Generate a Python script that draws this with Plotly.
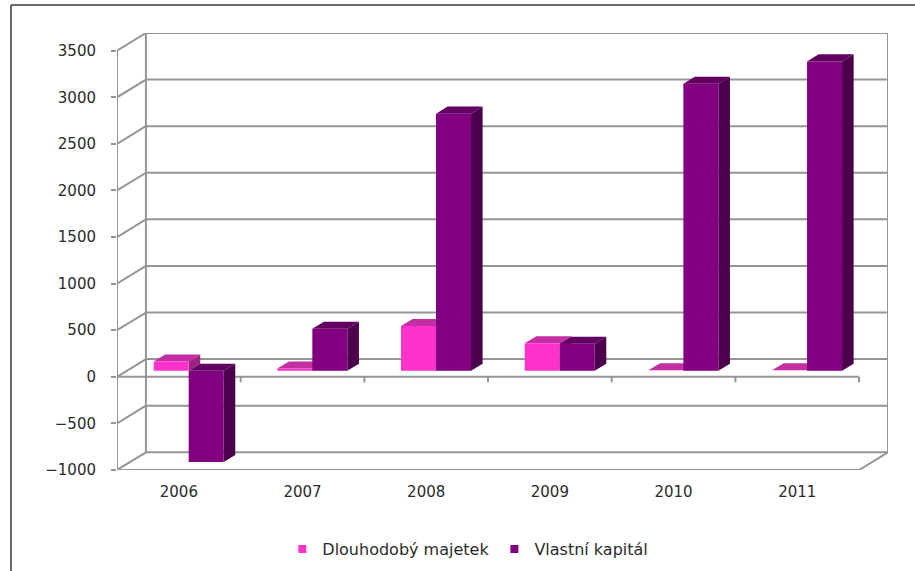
import plotly.graph_objects as go

# ---- data -------------------------------------------------------------
years = ['2006', '2007', '2008', '2009', '2010', '2011']
dlouhodoby_majetek = [100, 25, 480, 295, 5, 5]
vlastni_kapital = [-980, 450, 2760, 290, 3080, 3320]
y_ticks = [-1000, -500, 0, 500, 1000, 1500, 2000, 2500, 3000, 3500]

series_names = ['Dlouhodobý majetek', 'Vlastní kapitál']

# ---- oblique "3D" projection, depth expressed in data units ------------
DEPTH_X = 0.234          # horizontal shift of the back wall (category units)
DEPTH_Y = 190            # vertical shift of the back wall (value units)
Y_MIN, Y_MAX = y_ticks[0], y_ticks[-1]
X_MIN, X_MAX = -0.5, len(years) - 0.5

BAR_W = 0.283            # width of one column
BAR_Z0 = 0.34            # depth fraction of the column front faces
BAR_Z1 = 0.74            # depth fraction of the column back faces

GRID = '#959595'
TEXT = '#2b2b2b'
FONT = 'DejaVu Sans'

PALETTE = {
    'Dlouhodobý majetek': dict(front='#FF33CC', top='#C42EA3', side='#9E2483'),
    'Vlastní kapitál': dict(front='#800080', top='#610061', side='#4C004C'),
}


def proj(x, y, z):
    return x + z * DEPTH_X, y + z * DEPTH_Y


def poly(points):
    xs, ys = [], []
    for p in points:
        px, py = proj(*p)
        xs.append(px)
        ys.append(py)
    xs.append(xs[0])
    ys.append(ys[0])
    return xs, ys


def faces(values, x_shift):
    """Polygons for the side, top and front faces of one series."""
    out = {'side': ([], []), 'top': ([], []), 'front': ([], [])}
    for i, v in enumerate(values):
        x0 = i + x_shift
        x1 = x0 + BAR_W
        top = max(v, 0)
        shapes = {
            'side': [(x1, 0, BAR_Z0), (x1, v, BAR_Z0), (x1, v, BAR_Z1), (x1, 0, BAR_Z1)],
            'top': [(x0, top, BAR_Z0), (x1, top, BAR_Z0), (x1, top, BAR_Z1), (x0, top, BAR_Z1)],
            'front': [(x0, 0, BAR_Z0), (x1, 0, BAR_Z0), (x1, v, BAR_Z0), (x0, v, BAR_Z0)],
        }
        for k, pts in shapes.items():
            xs, ys = poly(pts)
            out[k][0].extend(xs + [None])
            out[k][1].extend(ys + [None])
    return out


fig = go.Figure()

for name, values, shift in [
    (series_names[0], dlouhodoby_majetek, -BAR_W),
    (series_names[1], vlastni_kapital, 0.0),
]:
    f = faces(values, shift)
    for part in ['side', 'top', 'front']:
        fig.add_trace(go.Scatter(
            x=f[part][0], y=f[part][1],
            mode='lines', fill='toself',
            fillcolor=PALETTE[name][part],
            line=dict(width=0, color=PALETTE[name][part]),
            hoverinfo='skip', showlegend=False,
        ))
    # legend entry
    fig.add_trace(go.Scatter(
        x=[None], y=[None], mode='markers', name=name,
        marker=dict(symbol='square', size=8, color=PALETTE[name]['front']),
    ))

# ---- walls, floor and gridlines ----------------------------------------
shapes = []


def seg(p, q, **kw):
    line = dict(color=GRID, width=2)
    line.update(kw)
    shapes.append(dict(type='line', xref='x', yref='y', layer='below',
                       x0=p[0], y0=p[1], x1=q[0], y1=q[1], line=line))


for v in y_ticks:
    # side wall diagonal and back wall gridline
    seg(proj(X_MIN, v, 0), proj(X_MIN, v, 1))
    seg(proj(X_MIN, v, 1), proj(X_MAX, v, 1))

# back wall verticals
seg(proj(X_MIN, Y_MIN, 1), proj(X_MIN, Y_MAX, 1))
seg(proj(X_MAX, Y_MIN, 1), proj(X_MAX, Y_MAX, 1))
# front value axis
seg(proj(X_MIN, Y_MIN, 0), proj(X_MIN, Y_MAX, 0))
# floor front edge and right edge
seg(proj(X_MIN, Y_MIN, 0), proj(X_MAX, Y_MIN, 0))
seg(proj(X_MAX, Y_MIN, 0), proj(X_MAX, Y_MIN, 1))
# category axis at zero with its tick marks
seg(proj(X_MIN, 0, 0), proj(X_MAX, 0, 0))
for k in range(len(years)):
    xb = k + 0.5
    seg((xb, 0), (xb, -60))

# outer chart frame (left and top)
shapes.append(dict(type='line', xref='paper', yref='paper',
                   x0=-0.1375, x1=-0.1375, y0=-0.25, y1=1.064,
                   line=dict(color='#3a3a3a', width=1.5)))
shapes.append(dict(type='line', xref='paper', yref='paper',
                   x0=-0.1375, x1=1.04, y0=1.064, y1=1.064,
                   line=dict(color='#3a3a3a', width=1.5)))

fig.update_layout(
    width=915, height=571,
    margin=dict(l=117, r=27, t=33, b=101, autoexpand=False),
    paper_bgcolor='white', plot_bgcolor='white',
    font=dict(family=FONT, size=15, color=TEXT),
    shapes=shapes,
    showlegend=True,
    legend=dict(orientation='h', x=0.455, xanchor='center',
                y=-0.181, yanchor='middle',
                font=dict(family=FONT, size=16, color=TEXT),
                itemwidth=30, traceorder='normal'),
    xaxis=dict(range=[X_MIN, X_MAX + DEPTH_X], tickvals=list(range(len(years))),
               ticktext=years, showgrid=False, zeroline=False, showline=False,
               ticks='', ticklabelstandoff=11, fixedrange=True),
    yaxis=dict(range=[Y_MIN, Y_MAX + DEPTH_Y], tickvals=y_ticks,
               showgrid=False, zeroline=False, showline=False,
               ticks='outside', ticklen=5, tickcolor=GRID, tickwidth=2,
               ticklabelstandoff=12, fixedrange=True),
)

fig.write_html('out.html')
